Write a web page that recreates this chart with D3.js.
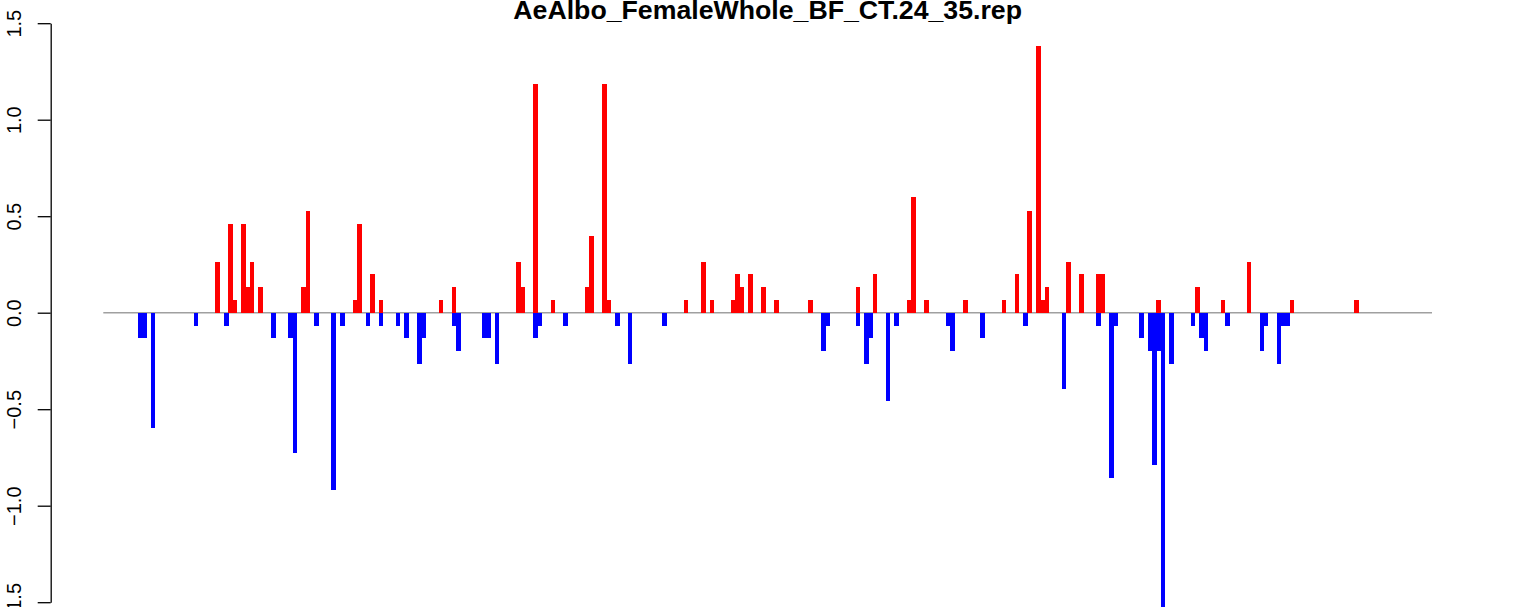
<!DOCTYPE html>
<html><head><meta charset="utf-8">
<script src="https://cdn.jsdelivr.net/npm/d3@7"></script>
<style>body{margin:0;background:#fff;}svg{display:block;font-family:"Liberation Sans",Arial,Helvetica,sans-serif;}</style>
</head><body>
<svg id="chart" width="1533" height="607"></svg>
<script>
const title = "AeAlbo_FemaleWhole_BF_CT.24_35.rep";
const yTicks = [-1.5, -1.0, -0.5, 0.0, 0.5, 1.0, 1.5];

// positive series (red): bin positions and values
const redPos = [18,21,22,24,25,26,28,38,39,50,51,54,56,70,73,88,89,92,96,104,105,108,109,127,131,133,138,139,140,142,145,148,156,167,171,179,180,183,192,201,204,207,209,210,211,216,219,223,224,237,246,252,258,268,283];
const redVal = [0.264,0.46,0.067,0.46,0.133,0.264,0.133,0.133,0.526,0.067,0.46,0.2,0.067,0.067,0.133,0.264,0.133,1.185,0.067,0.133,0.397,1.185,0.067,0.067,0.264,0.067,0.067,0.2,0.133,0.2,0.133,0.067,0.067,0.133,0.2,0.067,0.597,0.067,0.067,0.067,0.2,0.526,1.382,0.067,0.133,0.264,0.2,0.2,0.2,0.067,0.133,0.067,0.264,0.067,0.067];

// negative series (blue)
const bluePos = [0,1,3,13,20,31,35,36,41,45,47,53,56,60,62,65,66,73,74,80,81,83,92,93,99,111,114,122,159,160,167,169,170,174,176,188,189,196,206,215,223,226,227,233,235,236,237,238,240,245,247,248,253,261,262,265,266,267];
const blueVal = [-0.133,-0.133,-0.597,-0.067,-0.067,-0.133,-0.133,-0.725,-0.067,-0.921,-0.067,-0.067,-0.067,-0.067,-0.133,-0.264,-0.133,-0.067,-0.196,-0.133,-0.133,-0.264,-0.133,-0.067,-0.067,-0.067,-0.264,-0.067,-0.196,-0.067,-0.067,-0.264,-0.133,-0.46,-0.067,-0.067,-0.196,-0.133,-0.067,-0.397,-0.067,-0.855,-0.067,-0.133,-0.196,-0.791,-0.196,-1.524,-0.264,-0.067,-0.133,-0.196,-0.067,-0.196,-0.067,-0.264,-0.067,-0.067];

const svg = d3.select("#chart");
const plotL = 103.3, plotR = 1432;
const x = d3.scaleLinear().domain([-8.61, 300.6]).range([plotL, plotR]);
const y = d3.scaleLinear().domain([-1.5, 1.5]).range([602.2, 23.2]);
const barW = 4.6;

// zero reference line
svg.append("line")
  .attr("x1", plotL).attr("x2", plotR)
  .attr("y1", y(0)).attr("y2", y(0))
  .attr("stroke", "#a0a0a0").attr("stroke-width", 1.6);

const red = redPos.map((p, i) => ({p, v: redVal[i]}));
const blue = bluePos.map((p, i) => ({p, v: blueVal[i]}));

function bars(data, color) {
  svg.append("g").selectAll("rect").data(data).join("rect")
    .attr("x", d => x(d.p) - barW / 2)
    .attr("width", barW)
    .attr("y", d => Math.min(y(d.v), y(0)))
    .attr("height", d => Math.abs(y(d.v) - y(0)))
    .attr("fill", color)
    .attr("shape-rendering", "crispEdges");
}
bars(red, "#ff0000");
bars(blue, "#0000ff");

// y axis
const axisX = 50.7;
const ax = svg.append("g").attr("transform", `translate(${axisX},0)`)
  .call(d3.axisLeft(y).tickValues(yTicks).tickSize(13).tickSizeOuter(0)
    .tickFormat(d => d3.format(".1f")(d)));
ax.select(".domain").attr("stroke", "#000").attr("stroke-width", 1.3);
ax.selectAll(".tick line").attr("stroke", "#000").attr("stroke-width", 1.3);
ax.selectAll(".tick text")
  .attr("x", 0).attr("dy", 0)
  .attr("transform", `translate(${20.7 - axisX},0) rotate(-90)`)
  .attr("text-anchor", "middle")
  .attr("font-size", 20)
  .attr("font-family", "Liberation Sans, Arial, sans-serif")
  .attr("fill", "#000");

// title
svg.append("text")
  .attr("x", (plotL + plotR) / 2).attr("y", 19)
  .attr("text-anchor", "middle")
  .attr("font-weight", "bold").attr("font-size", 26.7)
  .text(title);
</script>
</body></html>
